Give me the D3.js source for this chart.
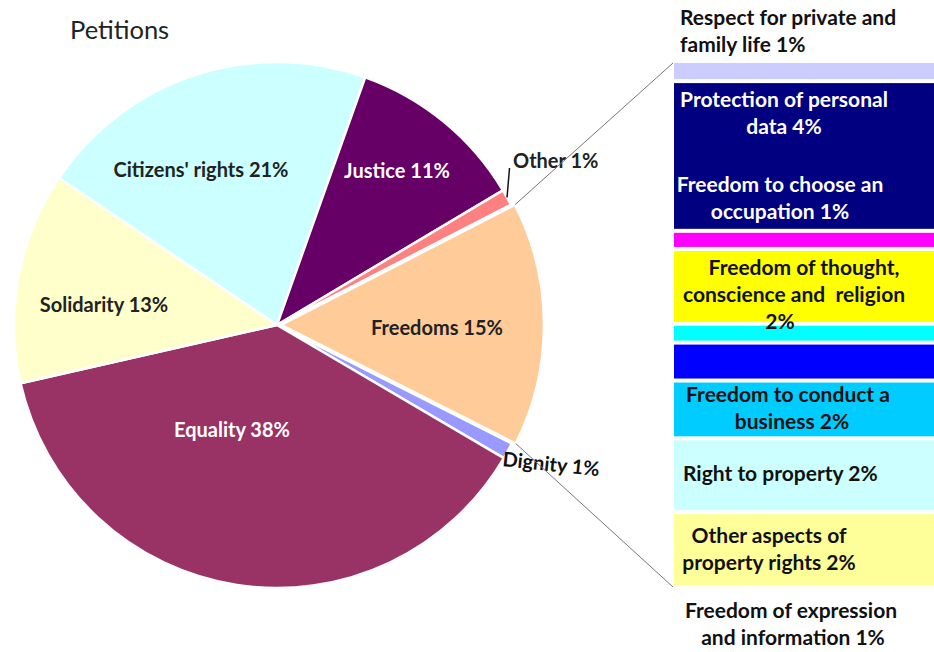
<!DOCTYPE html>
<html><head><meta charset="utf-8">
<script src="https://cdn.jsdelivr.net/npm/d3@7"></script>
<style>body{margin:0;background:#fff}svg{display:block}text{font-family:Lato,"Open Sans",sans-serif;white-space:pre}</style>
</head><body>
<svg id="c" width="934" height="652"></svg>
<script>
// ---- data ----
const pieCategories = ["Citizens' rights","Justice","Other","Freedoms","Dignity","Equality","Solidarity"];
const pieValues = [21, 11, 1, 15, 1, 38, 13];
const pieColors = ["#CCFFFF","#660066","#FF8080","#FFCC99","#9999FF","#993366","#FFFFCC"];

const barSegments = ["Respect for private and family life","Protection of personal data","(magenta)","Freedom of thought, conscience and religion","(cyan)","(blue)","Freedom to conduct a business","Right to property","Other aspects of property rights"];
const barValues = [0.52, 4.3, 0.52, 2.15, 0.54, 1.09, 1.66, 2.12, 2.15];
const barColors = ["#CCCCFF","#000080","#FF00FF","#FFFF00","#00FFFF","#0000FF","#00CCFF","#CCFFFF","#FFFF99"];

const barLabels = [
  ["Respect for private and","family life 1%"],
  ["Protection of personal","data 4%"],
  ["Freedom to choose an","occupation 1%"],
  ["Freedom of thought,","conscience and  religion","2%"],
  ["Freedom to conduct a","business 2%"],
  ["Right to property 2%"],
  ["Other aspects of","property rights 2%"],
  ["Freedom of expression","and information 1%"]
];

// ---- layout ----
const svg = d3.select("#c");
const cx = 277, cy = 325, R = 263;
const start = -56 * Math.PI / 180;
const FS = 20, FSB = 21;

svg.append("text").attr("x", 70).attr("y", 39).attr("font-size", 25.5).attr("fill", "#222").text("Petitions");

const pie = d3.pie().sort(null).value(d => d).startAngle(start).endAngle(start + 2 * Math.PI);
const arcs = pie(pieValues);
const arc = d3.arc().innerRadius(0).outerRadius(R);
const g = svg.append("g").attr("transform", `translate(${cx},${cy})`);

const explode = i => pieCategories[i] === "Freedoms" ? 4 : 0;
g.selectAll("path").data(arcs).join("path")
  .attr("d", arc)
  .attr("fill", (d, i) => pieColors[i])
  .attr("stroke", "#fff").attr("stroke-width", 2.5).attr("stroke-linejoin", "round")
  .attr("transform", (d, i) => {
    const a = (d.startAngle + d.endAngle) / 2, e = explode(i);
    return `translate(${e * Math.sin(a)},${-e * Math.cos(a)})`;
  });

// pie labels
const labelPos = {
  "Citizens' rights": [201, 177, "#222"],
  "Justice": [397, 178, "#fff"],
  "Freedoms": [437, 335, "#222"],
  "Equality": [232, 437, "#fff"],
  "Solidarity": [104, 312, "#222"]
};
arcs.forEach((d, i) => {
  const name = pieCategories[i];
  const txt = `${name} ${pieValues[i]}%`;
  if (labelPos[name]) {
    const [x, y, col] = labelPos[name];
    svg.append("text").attr("x", x).attr("y", y).attr("text-anchor", "middle")
      .attr("font-size", FS).attr("font-weight", 700).attr("fill", col).text(txt);
  }
});
// Other label with leader
{
  const d = arcs[pieCategories.indexOf("Other")];
  const a = (d.startAngle + d.endAngle) / 2;
  const px = cx + R * Math.sin(a), py = cy - R * Math.cos(a);
  svg.append("line").attr("x1", px).attr("y1", py).attr("x2", px + 2.5).attr("y2", 168)
    .attr("stroke", "#111").attr("stroke-width", 1.5);
  svg.append("text").attr("x", 513).attr("y", 168).attr("font-size", FS).attr("font-weight", 700)
    .attr("fill", "#222").text(`Other ${pieValues[2]}%`);
}
// Dignity label
svg.append("text").attr("transform", "translate(502,466) rotate(6)")
  .attr("font-size", FS).attr("font-weight", 700).attr("fill", "#111").text(`Dignity ${pieValues[4]}%`);

// ---- bar of pie ----
const bx0 = 673, bx1 = 940, by0 = 63, by1 = 587;
const total = d3.sum(barValues);
const y = d3.scaleLinear().domain([0, total]).range([by0, by1]);
const cum = d3.cumsum(barValues);
svg.append("g").selectAll("rect").data(barValues).join("rect")
  .attr("x", bx0 + 1).attr("width", bx1 - bx0)
  .attr("y", (v, i) => y(cum[i] - v) + (i === 0 ? 0 : 2))
  .attr("height", (v, i) => y(cum[i]) - y(cum[i] - v) - (i === 0 ? 2 : 4))
  .attr("fill", (v, i) => barColors[i]);

// connector lines
const fr = arcs[pieCategories.indexOf("Freedoms")];
const e = 4, fa = (fr.startAngle + fr.endAngle) / 2;
const ox = cx + e * Math.sin(fa), oy = cy - e * Math.cos(fa);
[[fr.startAngle, by0], [fr.endAngle, by1]].forEach(([a, ty]) => {
  svg.append("line")
    .attr("x1", ox + R * Math.sin(a)).attr("y1", oy - R * Math.cos(a))
    .attr("x2", bx0).attr("y2", ty)
    .attr("stroke", "#777").attr("stroke-width", 1);
});

// bar labels
const barLabelLayout = [
  {x: 680, y: 25, anchor: "start", color: "#111"},
  {x: 784, y: 107, anchor: "middle", color: "#fff"},
  {x: 780, y: 192, anchor: "middle", color: "#fff"},
  {x: 804, y: 275, anchor: "middle", color: "#111"},
  {x: 788, y: 402, anchor: "middle", color: "#111"},
  {x: 683, y: 481, anchor: "start", color: "#111"},
  {x: 769, y: 543, anchor: "middle", color: "#111"},
  {x: 791, y: 618, anchor: "middle", color: "#111"}
];
const lineAdj = [[0,0],[0,0],[0,0],[0,-10,-24],[0,4],[0],[0,0],[0,2]];
barLabels.forEach((lines, i) => {
  const L = barLabelLayout[i];
  const t = svg.append("text").attr("font-size", FSB).attr("font-weight", 700).attr("fill", L.color)
    .attr("text-anchor", L.anchor);
  lines.forEach((s, j) => {
    t.append("tspan").attr("x", L.x + (lineAdj[i][j] || 0)).attr("y", L.y + j * 27).text(s);
  });
});
</script>
</body></html>
